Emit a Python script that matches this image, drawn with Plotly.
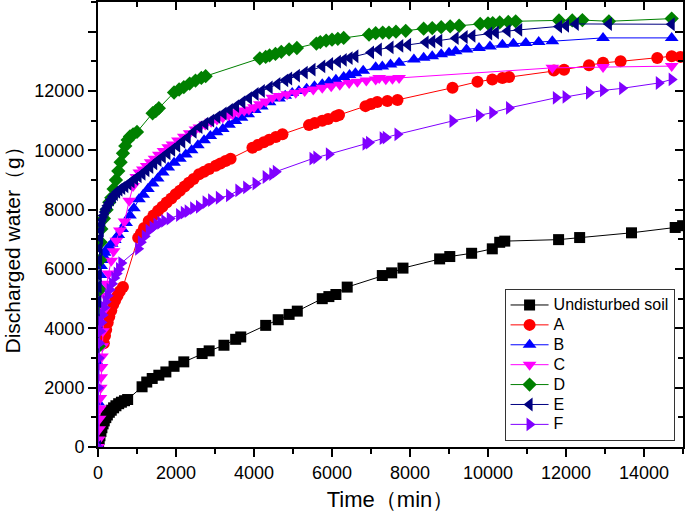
import plotly.graph_objects as go

# ---------------- data ----------------
soil_x = [0, 15, 30, 50, 75, 100, 130, 160, 200, 240, 290, 340, 400, 460, 530, 600, 680, 760,
          1130, 1250, 1390, 1560, 1740, 1950, 2200, 2670, 2850, 3230, 3530, 3660, 4300, 4620,
          4900, 5110, 5750, 5920, 6100, 6390, 7290, 7530, 7820, 8760, 9020, 9580, 10110, 10300,
          10430, 11810, 12350, 13680, 14800, 14990]
soil_y = [0, 150, 260, 380, 520, 650, 780, 880, 990, 1080, 1170, 1240, 1320, 1390, 1460, 1510,
          1560, 1600, 2030, 2190, 2310, 2420, 2530, 2720, 2870, 3150, 3240, 3430, 3630, 3710,
          4100, 4290, 4470, 4580, 5000, 5070, 5140, 5390, 5780, 5870, 6030, 6340, 6420, 6530,
          6680, 6900, 6940, 6990, 7060, 7220, 7400, 7460]

a_x = [150, 180, 210, 250, 290, 340, 390, 440, 500, 560, 640, 1030, 1100, 1180, 1300, 1420,
       1540, 1650, 1760, 1880, 1990, 2100, 2220, 2330, 2450, 2590, 2720, 2850, 3020, 3140,
       3270, 3400, 3960, 4100, 4250, 4390, 4560, 4730, 5410, 5560, 5750, 5900, 6100, 6180,
       6860, 7000, 7160, 7420, 7680, 9090, 9730, 10110, 10370, 10540, 11690, 11950, 12590,
       12950, 13400, 14340, 14710, 14930]
a_y = [3500, 3750, 3950, 4200, 4400, 4600, 4800, 4950, 5100, 5250, 5390, 7050, 7200, 7380,
       7620, 7800, 7960, 8100, 8240, 8380, 8520, 8640, 8780, 8910, 9030, 9190, 9280, 9370,
       9480, 9560, 9640, 9720, 10090, 10180, 10270, 10360, 10450, 10540, 10850, 10920, 11000,
       11060, 11150, 11190, 11490, 11560, 11630, 11660, 11700, 12110, 12310, 12390, 12440,
       12470, 12690, 12720, 12870, 12950, 13000, 13110, 13170, 13150]

b_x = [0, 5, 10, 20, 30, 45, 60, 80, 100, 130, 170, 220, 280, 350, 430, 520, 620, 720, 820,
       920, 1050, 1160, 1280, 1400, 1530, 1660, 1800, 1950, 2100, 2250, 2400, 2560, 2720,
       2880, 3040, 3200, 3360, 3520, 3680, 3850, 4020, 4200, 4400, 4640, 4800, 4980, 5150,
       5350, 5550, 5750, 5920, 6100, 6300, 6450, 6600, 6800, 7120, 7290, 7500, 7720, 8100,
       8350, 8570, 8800, 9000, 9170, 9450, 9770, 10050, 10370, 10650, 10970, 11300, 11650,
       12950, 14710]
b_y = [0, 1500, 2800, 4000, 4800, 5400, 5800, 6100, 6300, 6450, 6550, 6650, 6750, 6850, 6980,
       7150, 7350, 7550, 7800, 8050, 8350, 8500, 8700, 8880, 9050, 9250, 9420, 9580, 9720,
       9860, 10000, 10170, 10340, 10480, 10610, 10720, 10860, 10990, 11100, 11220, 11360,
       11480, 11620, 11750, 11840, 11930, 12000, 12080, 12160, 12230, 12300, 12380, 12470,
       12540, 12600, 12680, 12800, 12830, 12890, 12950, 13060, 13120, 13170, 13240, 13290,
       13340, 13400, 13450, 13500, 13560, 13590, 13620, 13650, 13680, 13790, 13790]

c_x = [0, 20, 30, 40, 50, 60, 70, 80, 90, 100, 110, 125, 150, 180, 220, 270, 340, 400, 470,
       560, 680, 800, 900, 980, 1060, 1150, 1250, 1350, 1450, 1560, 1680, 1800, 1910, 2050,
       2200, 2350, 2500, 2600, 2750, 2900, 3050, 3200, 3350, 3450, 3600, 3750, 3870, 4000,
       4150, 4300, 4470, 4650, 4850, 5070, 5300, 5520, 5750, 5980, 6200, 6440, 6650, 6880,
       7120, 7210, 7380, 7550, 7720, 11650, 12950, 14710]
c_y = [0, 250, 600, 950, 1300, 1650, 2000, 2350, 2700, 3050, 3400, 3900, 4600, 5100, 5500,
       5850, 6280, 6600, 6950, 7300, 7600, 8300, 8800, 9100, 9250, 9350, 9470, 9600, 9720,
       9850, 9980, 10100, 10200, 10330, 10460, 10580, 10700, 10770, 10870, 10960, 11040,
       11110, 11180, 11220, 11280, 11340, 11380, 11450, 11550, 11650, 11770, 11830, 11890,
       11940, 12000, 12050, 12110, 12160, 12210, 12270, 12310, 12350, 12390, 12440, 12400,
       12410, 12440, 12780, 12810, 12840]

d_x = [20, 40, 55, 70, 85, 150, 220, 290, 340, 400, 460, 520, 580, 640, 700, 760, 820, 900,
       1000, 1400, 1480, 1560, 1950, 2080, 2200, 2350, 2500, 2650, 2760, 4150, 4300, 4400,
       4550, 4700, 4900, 5100, 5600, 5700, 5850, 6000, 6150, 6300, 6950, 7120, 7300, 7460,
       7640, 7890, 8350, 8570, 8800, 9030, 9260, 9800, 10000, 10120, 10300, 10520, 10710,
       11820, 12160, 12420, 13100, 14710]
d_y = [3400, 5300, 6300, 6900, 7350, 7700, 8000, 8250, 8400, 8700, 9000, 9300, 9600, 9900,
       10150, 10350, 10470, 10540, 10620, 11250, 11320, 11420, 11950, 12050, 12130, 12250,
       12350, 12440, 12500, 13100, 13150, 13200, 13250, 13320, 13400, 13450, 13600, 13650,
       13700, 13730, 13760, 13790, 13900, 13950, 13970, 13970, 14000, 14030, 14100, 14120,
       14150, 14180, 14200, 14260, 14280, 14290, 14310, 14330, 14350, 14380, 14380, 14390,
       14350, 14440]

e_x = [0, 5, 10, 15, 20, 30, 40, 55, 70, 90, 110, 140, 170, 200, 240, 280, 330, 380, 430, 490,
       550, 620, 700, 780, 860, 950, 1040, 1140, 1240, 1340, 1440, 1550, 1660, 1780, 1900,
       2030, 2160, 2300, 2450, 2600, 2750, 2900, 3060, 3220, 3380, 3540, 3700, 3870, 4040,
       4200, 4400, 4600, 4800, 4900, 5100, 5300, 5500, 5750, 5950, 6150, 6300, 6450, 6600,
       7000, 7200, 7500, 7750, 7950, 8400, 8570, 8750, 9170, 9400, 9600, 10030, 10200, 10500,
       10800, 11820, 12000, 12250, 13100, 14710]
e_y = [0, 4300, 4900, 5400, 5800, 6300, 6700, 7050, 7300, 7500, 7650, 7800, 7920, 8020, 8130,
       8230, 8340, 8440, 8520, 8600, 8670, 8730, 8790, 8870, 8950, 9040, 9120, 9210, 9330,
       9440, 9560, 9670, 9780, 9900, 10020, 10150, 10290, 10430, 10620, 10780, 10900, 11000,
       11120, 11240, 11360, 11490, 11620, 11760, 11900, 12000, 12120, 12240, 12360, 12420,
       12520, 12620, 12720, 12830, 12910, 12990, 13050, 13110, 13170, 13300, 13400, 13470,
       13520, 13560, 13640, 13670, 13700, 13780, 13820, 13860, 13940, 13970, 14020, 14060,
       14170, 14200, 14260, 14260, 14250]

f_x = [0, 10, 20, 35, 60, 90, 120, 160, 200, 250, 300, 360, 420, 480, 540, 600, 1030, 1100,
       1200, 1300, 1400, 1500, 1600, 1700, 1840, 2080, 2200, 2300, 2440, 2590, 2760, 2900,
       3100, 3360, 3600, 3800, 4040, 4300, 4470, 4560, 5500, 5600, 5920, 6860, 6950, 7300,
       7380, 7680, 9090, 9770, 10110, 10540, 11740, 11990, 12590, 12950, 13440, 14380, 14710]
f_y = [0, 2000, 3000, 3500, 3900, 4200, 4450, 4700, 4900, 5100, 5300, 5500, 5700, 5850, 6000,
       6200, 6680, 6900, 7100, 7290, 7400, 7500, 7560, 7620, 7700, 7820, 7900, 7950, 8050,
       8100, 8250, 8320, 8400, 8480, 8650, 8750, 8880, 9100, 9200, 9280, 9720, 9760, 9870,
       10220, 10260, 10410, 10430, 10540, 10990, 11180, 11270, 11430, 11770, 11800, 11940,
       12020, 12090, 12270, 12390]

series = [
    ("Undisturbed soil", soil_x, soil_y, "#000000", "square", 11),
    ("A", a_x, a_y, "#FF0000", "circle", 12),
    ("B", b_x, b_y, "#0000FF", "triangle-up", 12),
    ("C", c_x, c_y, "#FF00FF", "triangle-down", 12),
    ("D", d_x, d_y, "#008000", "diamond", 11),
    ("E", e_x, e_y, "#000080", "triangle-left", 12),
    ("F", f_x, f_y, "#8000FF", "triangle-right", 12),
]

x_ticks = [0, 2000, 4000, 6000, 8000, 10000, 12000, 14000]
x_labels = ["0", "2000", "4000", "6000", "8000", "10000", "12000", "14000"]
y_ticks = [0, 2000, 4000, 6000, 8000, 10000, 12000, 14000]
y_labels = ["0", "2000", "4000", "6000", "8000", "10000", "12000", ""]

FONT = "Liberation Sans, Arial, sans-serif"

fig = go.Figure()
for name, xs, ys, col, sym, sz in series:
    fig.add_trace(go.Scatter(
        x=xs, y=ys, name='<span style="font-size:16px">' + name + '</span>',
        mode="lines+markers",
        line=dict(color=col, width=1),
        marker=dict(symbol=sym, size=sz, color=col, line=dict(width=0)),
    ))

# helper (empty) trace so the mirrored top / right tick axes are drawn
fig.add_trace(go.Scatter(x=[], y=[], xaxis="x2", yaxis="y2", showlegend=False,
                         hoverinfo="skip"))

axis_common = dict(
    range=[0, 15000], showgrid=False, zeroline=False, automargin=False,
    showline=True, linecolor="black", linewidth=2, mirror=True,
    ticks="outside", ticklen=8, tickwidth=1.5, tickcolor="black",
    minor=dict(dtick=1000, ticks="outside", ticklen=5, tickwidth=1.5, tickcolor="black"),
    tickfont=dict(family=FONT, size=18, color="black"),
)

fig.update_layout(
    width=685, height=516,
    margin=dict(l=98, r=2, t=2, b=69, autoexpand=False),
    paper_bgcolor="white", plot_bgcolor="white",
    font=dict(family=FONT, color="black"),
    xaxis=dict(axis_common, tickvals=x_ticks, ticktext=x_labels,
               title=dict(text="Time（min）", font=dict(family=FONT, size=22), standoff=10)),
    yaxis=dict(axis_common, tickvals=y_ticks, ticktext=y_labels,
               title=dict(text="Discharged water（g）" + "&nbsp;" * 7,
                          font=dict(family=FONT, size=21), standoff=8)),
    xaxis2=dict(range=[0, 15000], overlaying="x", side="top", anchor="y", automargin=False,
                showgrid=False, zeroline=False, showline=False, showticklabels=False,
                tickvals=x_ticks, ticks="inside", ticklen=8, tickwidth=1.5, tickcolor="black",
                minor=dict(dtick=1000, ticks="inside", ticklen=5, tickwidth=1.5, tickcolor="black")),
    yaxis2=dict(range=[0, 15000], overlaying="y", side="right", anchor="x", automargin=False,
                showgrid=False, zeroline=False, showline=False, showticklabels=False,
                tickvals=y_ticks, ticks="inside", ticklen=8, tickwidth=1.5, tickcolor="black",
                minor=dict(dtick=1000, ticks="inside", ticklen=5, tickwidth=1.5, tickcolor="black")),
    legend=dict(x=0.695, y=0.355, xanchor="left", yanchor="top",
                bordercolor="#333333", borderwidth=1, bgcolor="white",
                font=dict(family=FONT, size=13, color="black"),
                itemwidth=38, tracegroupgap=0),
    showlegend=True,
)

# remove the browser's default 8px body margin so the figure sits at the page origin
fig.write_html("out.html", config={"displayModeBar": False},
               post_script="document.body.style.margin='0';document.body.style.padding='0';")
